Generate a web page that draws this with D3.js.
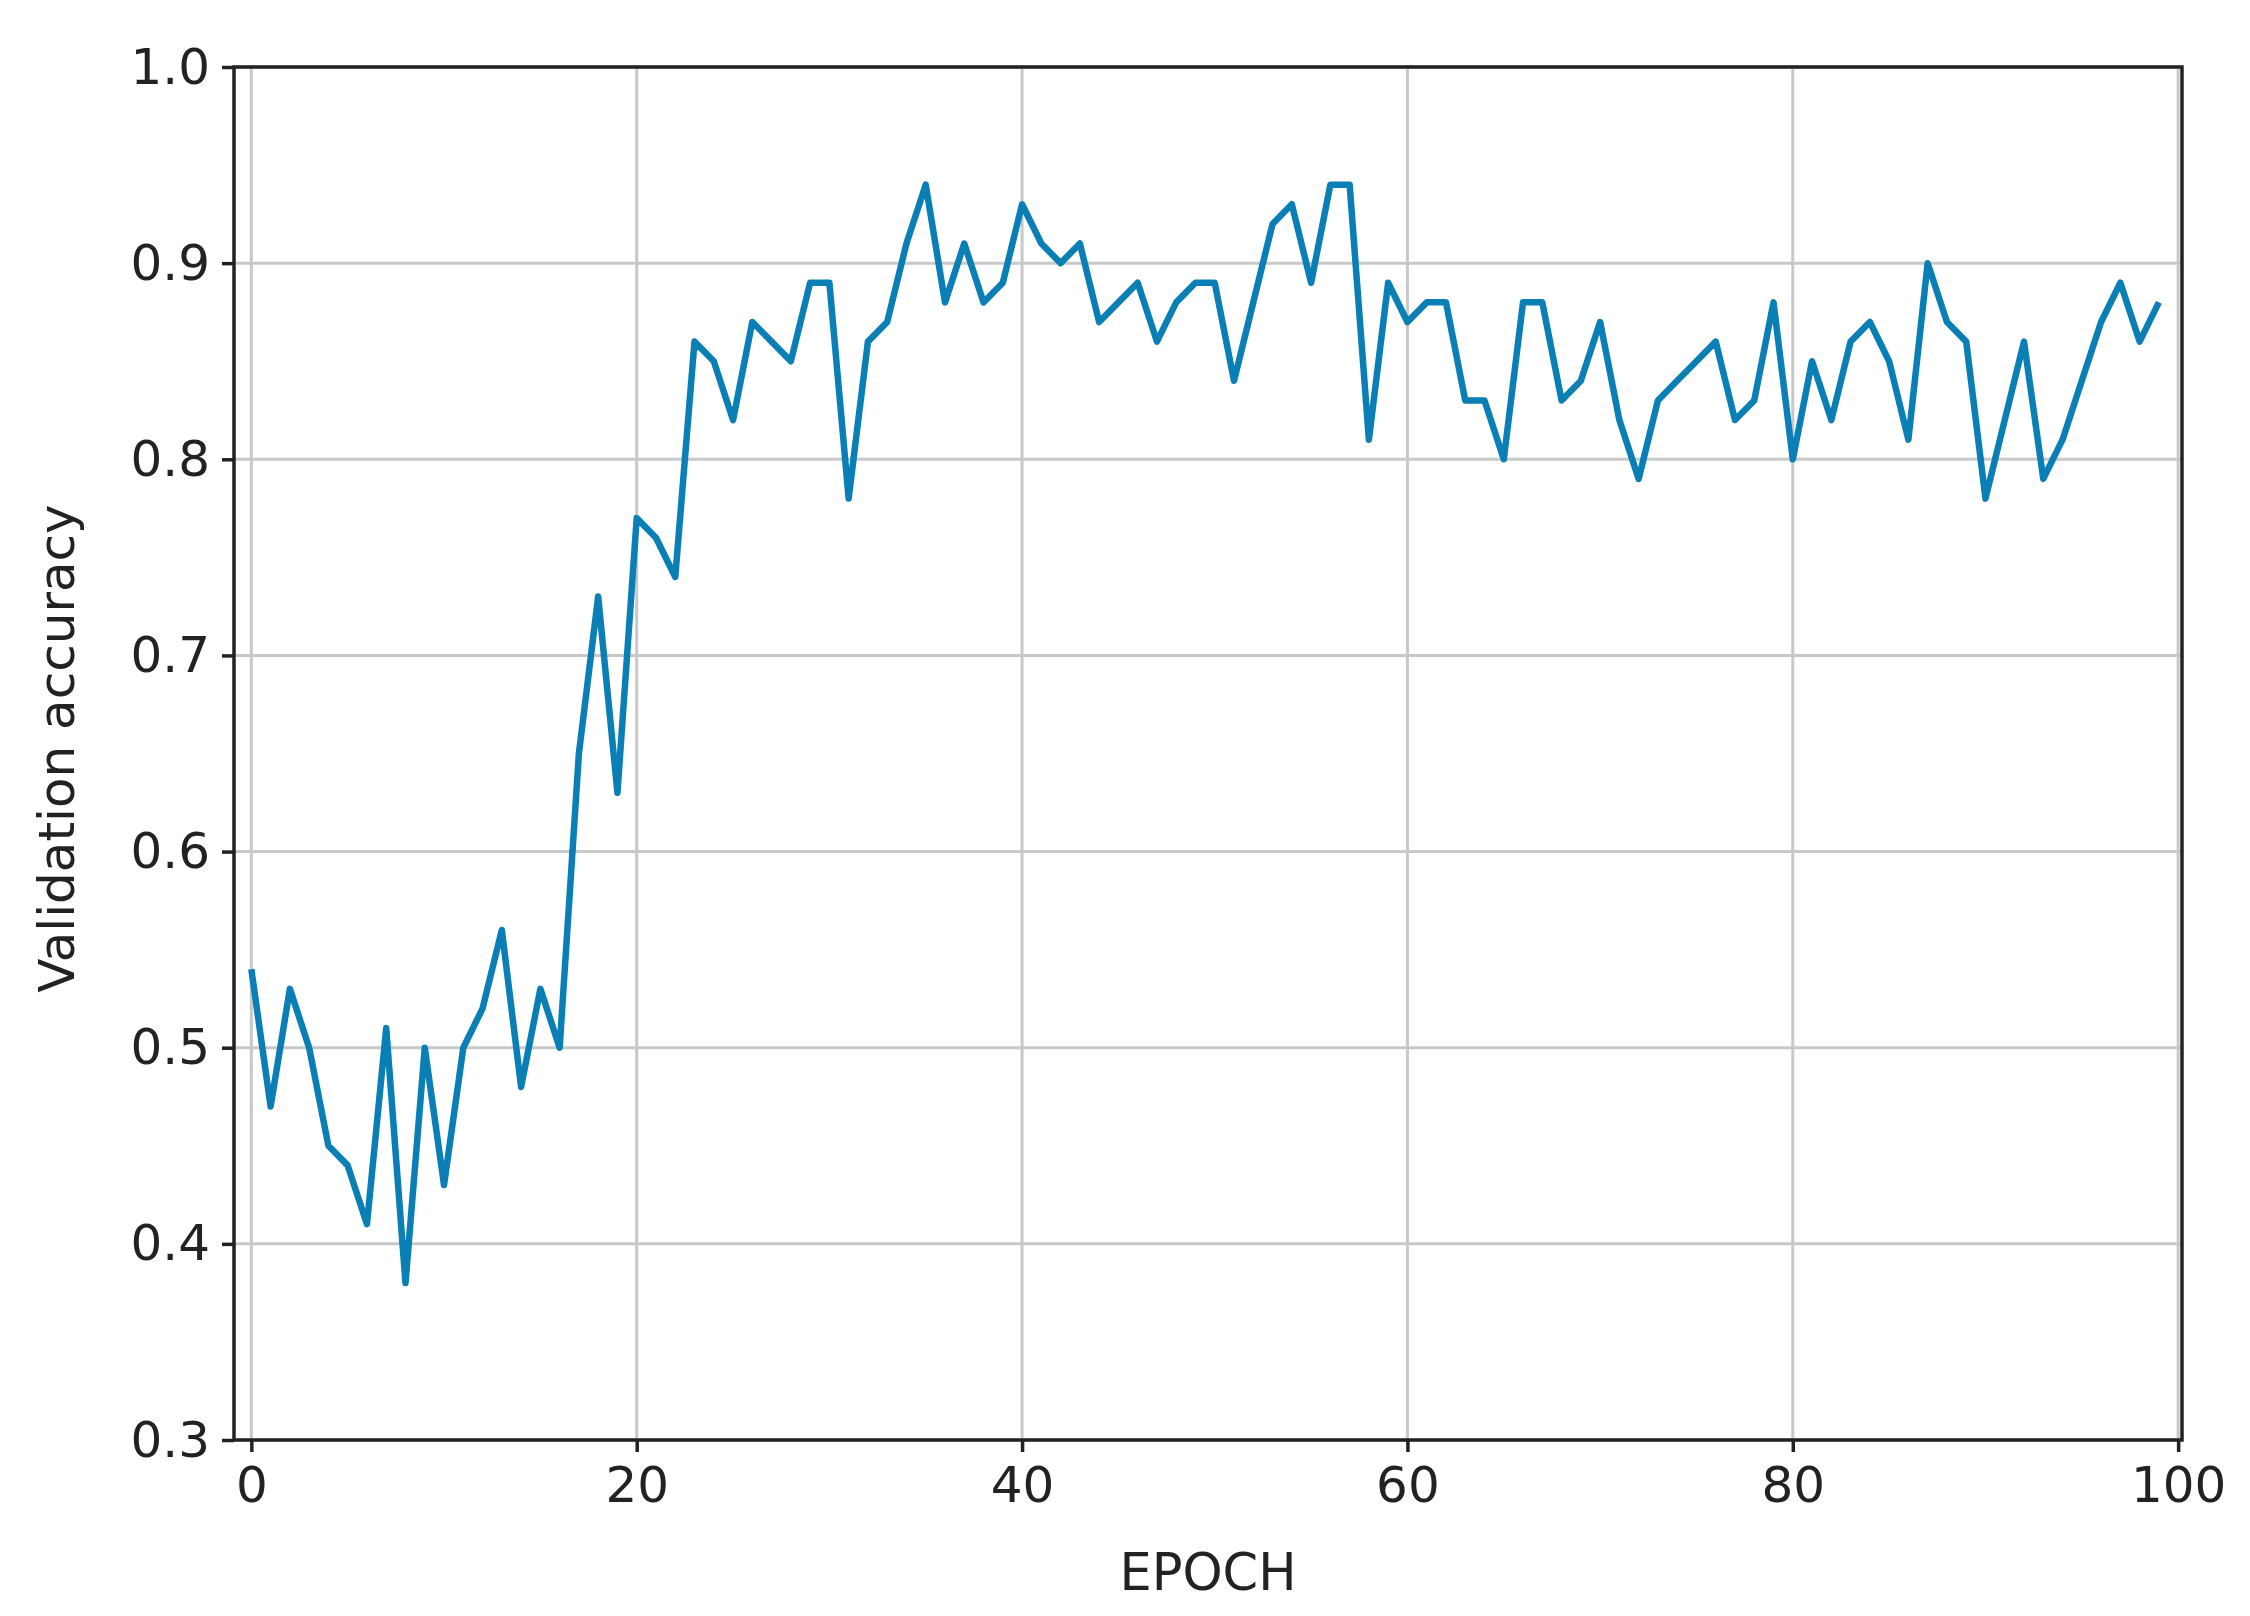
<!DOCTYPE html><html><head><meta charset="utf-8"><script src="https://cdn.jsdelivr.net/npm/d3@7"></script>
<style>body{margin:0;background:#fff}text{font-family:"DejaVu Sans",sans-serif;fill:#222}</style></head><body>
<svg id="c" width="2250" height="1616"></svg>
<script>
const accuracy=[0.54,0.47,0.53,0.50,0.45,0.44,0.41,0.51,0.38,0.50,0.43,0.50,0.52,0.56,0.48,0.53,0.50,0.65,0.73,0.63,0.77,0.76,0.74,0.86,0.85,0.82,0.87,0.86,0.85,0.89,0.89,0.78,0.86,0.87,0.91,0.94,0.88,0.91,0.88,0.89,0.93,0.91,0.90,0.91,0.87,0.88,0.89,0.86,0.88,0.89,0.89,0.84,0.88,0.92,0.93,0.89,0.94,0.94,0.81,0.89,0.87,0.88,0.88,0.83,0.83,0.80,0.88,0.88,0.83,0.84,0.87,0.82,0.79,0.83,0.84,0.85,0.86,0.82,0.83,0.88,0.80,0.85,0.82,0.86,0.87,0.85,0.81,0.90,0.87,0.86,0.78,0.82,0.86,0.79,0.81,0.84,0.87,0.89,0.86,0.88];
const xTicks=[0,20,40,60,80,100];
const yTicks=[0.3,0.4,0.5,0.6,0.7,0.8,0.9,1.0];
const L=234,R=2182,T=67,B=1440;
const svg=d3.select("#c");
const x=d3.scaleLinear().domain([-0.9,100.2]).range([L,R]);
const y=d3.scaleLinear().domain([0.3,1.0]).range([B,T]);
const g=svg.append("g");
g.selectAll(".vx").data(xTicks).join("line").attr("x1",d=>x(d)).attr("x2",d=>x(d)).attr("y1",T).attr("y2",B).attr("stroke","#c8c8c8").attr("stroke-width",3);
g.selectAll(".hy").data(yTicks).join("line").attr("y1",d=>y(d)).attr("y2",d=>y(d)).attr("x1",L).attr("x2",R).attr("stroke","#c8c8c8").attr("stroke-width",3);
svg.append("path").datum(accuracy).attr("fill","none").attr("stroke","#0a7fb5").attr("stroke-width",6.5).attr("stroke-linejoin","round")
 .attr("d",d3.line().x((d,i)=>x(i)).y(d=>y(d)));
svg.append("rect").attr("x",L).attr("y",T).attr("width",R-L).attr("height",B-T).attr("fill","none").attr("stroke","#222").attr("stroke-width",3.5);
const xa=svg.append("g").attr("transform",`translate(0,${B})`).call(d3.axisBottom(x).tickValues(xTicks).tickSize(12).tickPadding(14).tickFormat(d3.format("d")));
const ya=svg.append("g").attr("transform",`translate(${L},0)`).call(d3.axisLeft(y).tickValues(yTicks).tickSize(12).tickPadding(12).tickFormat(d3.format(".1f")));
[xa,ya].forEach(a=>{a.select(".domain").remove();a.selectAll("line").attr("stroke","#222").attr("stroke-width",3.5);a.selectAll("text").style("font-size","50px").attr("fill","#222");});
svg.append("text").attr("x",(L+R)/2).attr("y",1590).attr("text-anchor","middle").style("font-size","51px").text("EPOCH");
svg.append("text").attr("transform",`translate(74,${(T+B)/2-5}) rotate(-90)`).attr("text-anchor","middle").style("font-size","50px").text("Validation accuracy");
</script></body></html>
